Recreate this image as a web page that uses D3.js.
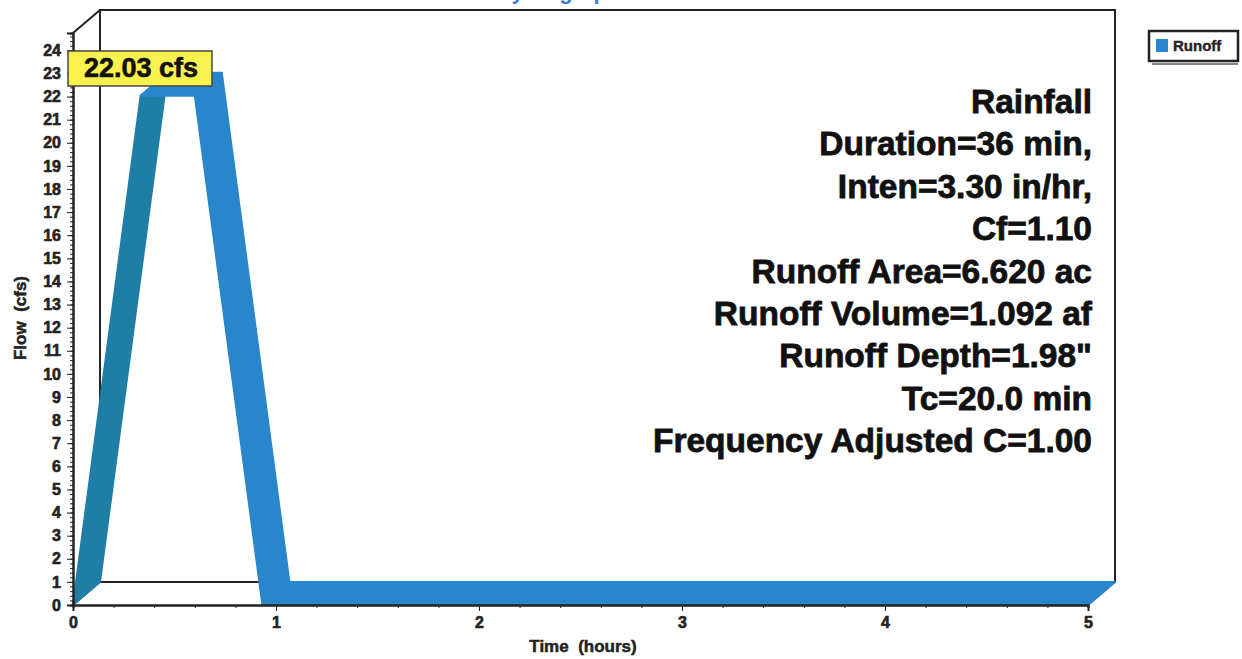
<!DOCTYPE html>
<html>
<head>
<meta charset="utf-8">
<script src="https://cdn.jsdelivr.net/npm/d3@7"></script>
<style>
  html, body { margin: 0; padding: 0; background: #fff; }
  svg { display: block; font-family: "Liberation Sans", Arial, sans-serif; }
</style>
</head>
<body>
<svg id="chart" width="1242" height="659"></svg>
<script>
// ---- data ----
const times = [0, 0.333, 0.6, 0.933, 5];
const flows = [0, 22.03, 22.03, 0, 0];
const yTickValues = d3.range(0, 25, 1);
const xTickValues = [0, 1, 2, 3, 4, 5];
const infoLines = [
  "Rainfall",
  "Duration=36 min,",
  "Inten=3.30 in/hr,",
  "Cf=1.10",
  "Runoff Area=6.620 ac",
  "Runoff Volume=1.092 af",
  "Runoff Depth=1.98\"",
  "Tc=20.0 min",
  "Frequency Adjusted C=1.00"
];
const peakLabel = "22.03 cfs";
const seriesName = "Runoff";
const chartTitle = "Hydrograph";

// ---- layout ----
const svg = d3.select("#chart");
const x = d3.scaleLinear().domain([0, 5]).range([73, 1088]);
const y = d3.scaleLinear().domain([0, 24.75]).range([605, 33]);
const DX = 27, DY = -23;
const axisColor = "#222";
const darkFace = "#1f7ea6";
const lightFace = "#2886cc";

// title (cut off at top, as in the reference)
svg.append("text").attr("x", 558).attr("y", -1).attr("text-anchor", "middle")
  .attr("font-size", 22).attr("font-weight", "bold").attr("fill", "#3b7fd6")
  .text(chartTitle);

// back wall
const x0 = x(0), x1 = x(5), yb = y(0), yt = y(24.75);
const wall = svg.append("g").attr("stroke", axisColor).attr("fill", "none");
wall.append("rect").attr("x", x0 + DX).attr("y", yt + DY)
  .attr("width", x1 - x0).attr("height", yb - yt).attr("stroke-width", 2);
wall.append("line").attr("x1", x0).attr("y1", yt).attr("x2", x0 + DX).attr("y2", yt + DY).attr("stroke-width", 2);
wall.append("line").attr("x1", x0).attr("y1", yb).attr("x2", x0 + DX).attr("y2", yb + DY).attr("stroke-width", 1.5);
wall.append("line").attr("x1", x1).attr("y1", yb).attr("x2", x1 + DX).attr("y2", yb + DY).attr("stroke-width", 1.5);

// ribbon
const pts = times.map((t, i) => [x(t), y(flows[i])]);
const faces = [];
for (let i = 0; i < pts.length - 1; i++) {
  const a = pts[i], b = pts[i + 1];
  faces.push({
    poly: [a, b, [b[0] + DX, b[1] + DY], [a[0] + DX, a[1] + DY]],
    rising: flows[i + 1] > flows[i]
  });
}
svg.append("g").selectAll("path").data(faces).join("path")
  .attr("d", d => "M" + d.poly.map(p => p.join(",")).join("L") + "Z")
  .attr("fill", d => d.rising ? darkFace : lightFace)
  .attr("stroke", d => d.rising ? darkFace : lightFace)
  .attr("stroke-width", 2)
  .attr("stroke-linejoin", "round");

// front axes
const yAxis = d3.axisLeft(y).tickValues(yTickValues).tickSize(6).tickPadding(6).tickFormat(d3.format("d"));
const yMinor = d3.axisLeft(y).tickValues(d3.range(0, 24.7, 0.2)).tickSize(3).tickFormat("");
const xAxis = d3.axisBottom(x).tickValues(xTickValues).tickSize(6).tickPadding(6).tickFormat(d3.format("d"));
const xMinor = d3.axisBottom(x).tickValues(d3.range(0, 5.01, 0.2)).tickSize(3).tickFormat("");

function styleAxis(g) {
  g.select(".domain").attr("stroke", axisColor).attr("stroke-width", 2);
  g.selectAll(".tick line").attr("stroke", axisColor);
  g.selectAll(".tick text").attr("fill", "#222").attr("font-size", 16).attr("font-weight", "bold")
    .attr("stroke", "#222").attr("stroke-width", 0.6)
    .attr("font-family", "'Liberation Sans', Arial, sans-serif");
}
svg.append("g").attr("transform", `translate(${x0},0)`).call(yMinor).call(styleAxis);
svg.append("g").attr("transform", `translate(${x0},0)`).call(yAxis).call(styleAxis);
svg.append("g").attr("transform", `translate(0,${yb})`).call(xMinor).call(styleAxis);
svg.append("g").attr("transform", `translate(0,${yb})`).call(xAxis).call(styleAxis);

// axis titles
svg.append("text").attr("transform", "translate(26,318) rotate(-90)")
  .attr("text-anchor", "middle").attr("font-size", 17).attr("font-weight", "bold")
  .attr("fill", "#222").attr("stroke", "#222").attr("stroke-width", 0.5)
  .style("white-space", "pre").text("Flow  (cfs)");
svg.append("text").attr("x", 583).attr("y", 652)
  .attr("text-anchor", "middle").attr("font-size", 17).attr("font-weight", "bold")
  .attr("fill", "#222").attr("stroke", "#222").attr("stroke-width", 0.5)
  .style("white-space", "pre").text("Time  (hours)");

// peak label
const peakG = svg.append("g");
peakG.append("rect").attr("x", 68).attr("y", 51).attr("width", 144).attr("height", 35)
  .attr("fill", "#f8f24f").attr("stroke", "#444").attr("stroke-width", 1.5);
peakG.append("text").attr("x", 141).attr("y", 77).attr("text-anchor", "middle")
  .attr("font-size", 27).attr("font-weight", "bold").attr("fill", "#111")
  .attr("stroke", "#111").attr("stroke-width", 0.6).text(peakLabel);

// info text
svg.append("g").selectAll("text").data(infoLines).join("text")
  .attr("x", 1092).attr("y", (d, i) => 113 + i * 42.4)
  .attr("text-anchor", "end").attr("font-size", 33.5).attr("font-weight", "bold")
  .attr("fill", "#111").attr("stroke", "#111").attr("stroke-width", 0.8).text(d => d);

// legend
const lg = svg.append("g");
lg.append("rect").attr("x", 1149).attr("y", 31).attr("width", 89).attr("height", 30)
  .attr("fill", "#fff").attr("stroke", "#222").attr("stroke-width", 2.5);
lg.append("line").attr("x1", 1152).attr("y1", 64).attr("x2", 1238).attr("y2", 64)
  .attr("stroke", "#555").attr("stroke-width", 1.5);
lg.append("rect").attr("x", 1156).attr("y", 39).attr("width", 12).attr("height", 13)
  .attr("fill", lightFace);
lg.append("text").attr("x", 1173).attr("y", 51).attr("font-size", 15).attr("font-weight", "bold")
  .attr("fill", "#222").attr("stroke", "#222").attr("stroke-width", 0.4).text(seriesName);
</script>
</body>
</html>
